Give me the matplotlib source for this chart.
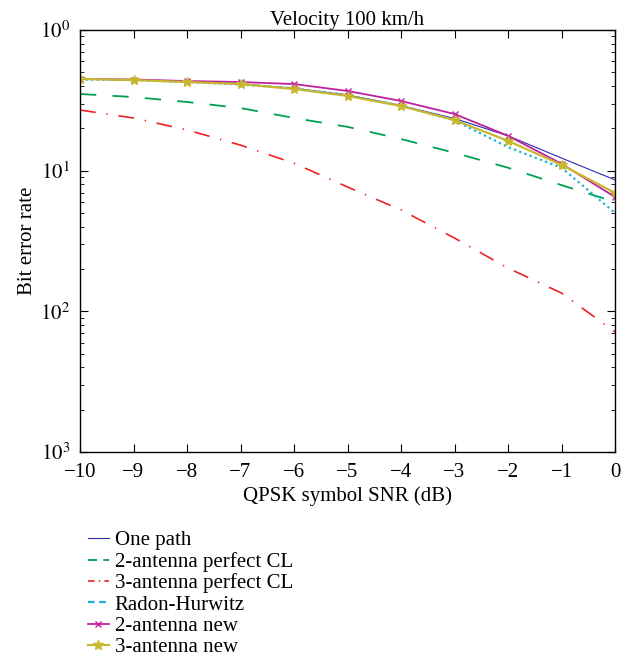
import numpy as np
import matplotlib.pyplot as plt
from matplotlib.ticker import LogLocator, FixedLocator, NullFormatter

plt.rcParams['font.family'] = ['Liberation Serif', 'DejaVu Serif']
plt.rcParams['mathtext.fontset'] = 'stix'

# data
snr = np.arange(-10, 1)
one_path = [0.449, 0.441, 0.430, 0.415, 0.385, 0.345, 0.290, 0.235, 0.177, 0.123, 0.086]
ant2_perfect = [0.351, 0.334, 0.308, 0.279, 0.237, 0.205, 0.168, 0.134, 0.105, 0.079, 0.060]
ant3_perfect = [0.270, 0.237, 0.195, 0.152, 0.113, 0.0766, 0.0526, 0.0332, 0.0203, 0.0135, 0.00714]
radon = [0.445, 0.441, 0.427, 0.410, 0.385, 0.345, 0.290, 0.228, 0.147, 0.105, 0.050]
ant2_new = [0.449, 0.445, 0.434, 0.427, 0.413, 0.369, 0.313, 0.253, 0.177, 0.112, 0.065]
ant3_new = [0.449, 0.441, 0.427, 0.413, 0.381, 0.340, 0.288, 0.229, 0.163, 0.110, 0.0695]

ytick_vals = [1e-3, 1e-2, 1e-1, 1e0]
ytick_labels = ['$10^3$', '$10^2$', '$10^1$', '$10^0$']

fig = plt.figure(figsize=(6.27, 6.6), dpi=100)
ax = fig.add_axes([0.1276, 0.315, 0.8534, 0.6395])

ax.plot(snr, one_path, color='#2b2bb0', lw=0.8, label='One path')
ax.plot(snr, ant2_perfect, color='#00a050', lw=1.3, dashes=(9, 9), label='2-antenna perfect CL')
ax.plot(snr, ant3_perfect, color='#ee2222', lw=1.2, dashes=(9.5, 6.5, 0.8, 6.5), label='3-antenna perfect CL')
ax.plot(snr, radon, color='#1ab0d8', lw=1.6, dashes=(1, 1.5), label='Radon-Hurwitz')
ax.plot(snr, ant2_new, color='#c020a0', lw=1.3, marker='x', ms=5, mew=1, label='2-antenna new')
ax.plot(snr, ant3_new, color='#c8b830', lw=1.6, marker='*', ms=7, label='3-antenna new')

ax.set_yscale('log')
ax.set_xlim(-10, 0)
ax.set_ylim(1e-3, 1)
ax.set_xticks(snr)
ax.set_xticklabels(['\u2212%d' % -v if v < 0 else '0' for v in snr])
ax.yaxis.set_major_locator(FixedLocator(ytick_vals))
ax.set_yticklabels(ytick_labels)
ax.yaxis.set_minor_locator(LogLocator(base=10, subs=np.arange(2, 10)))
ax.yaxis.set_minor_formatter(NullFormatter())

ax.tick_params(which='both', direction='in', top=True, right=True, labelsize=15)
ax.tick_params(axis='x', pad=8)
ax.tick_params(axis='y', pad=7)
ax.tick_params(which='major', length=6, width=0.8)
ax.tick_params(which='minor', length=3, width=0.6)
for s in ax.spines.values():
    s.set_linewidth(1.0)

ax.set_title('Velocity 100 km/h', fontsize=15, pad=3)
ax.set_xlabel('QPSK symbol SNR (dB)', fontsize=15, labelpad=3)
ax.set_ylabel('Bit error rate', fontsize=15, labelpad=2)

leg = fig.legend(loc='upper left', bbox_to_anchor=(0.140, 0.196), frameon=False,
                 fontsize=15, handlelength=1.0, handletextpad=0.3, labelspacing=0.08,
                 borderaxespad=0, borderpad=0)
legend_dashes = [None, (5, 3.5), (4, 2.5, 0.8, 2.5), (3, 2), None, None]
for line, d in zip(leg.get_lines(), legend_dashes):
    if d is not None:
        line.set_dashes(d)

fig.savefig('out.png', dpi=100)
